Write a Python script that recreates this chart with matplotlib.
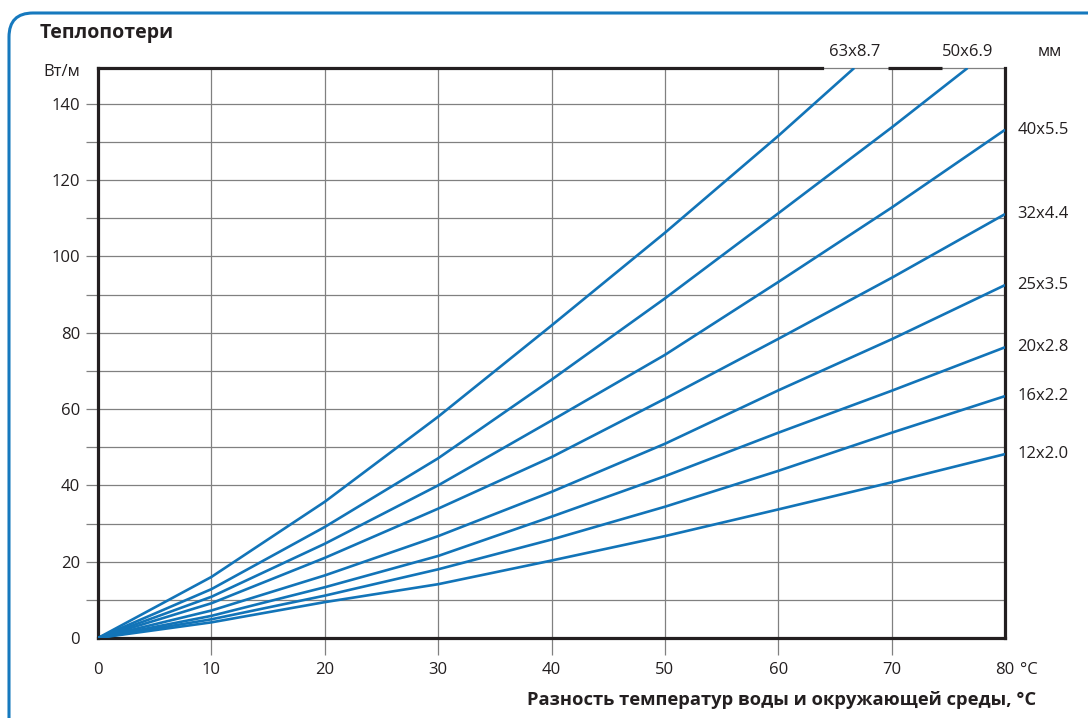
import matplotlib
matplotlib.use("Agg")
import matplotlib.pyplot as plt
from matplotlib.patches import FancyBboxPatch
from matplotlib.transforms import IdentityTransform

plt.rcParams['font.family'] = ['Open Sans', 'DejaVu Sans']

# ---- data ----
x_full = [0, 10, 20, 30, 40, 50, 60, 70, 80]
s12x20 = [0, 4.1, 9.4, 14.1, 20.3, 26.7, 33.7, 40.8, 48.2]
s16x22 = [0, 4.9, 11.1, 18.0, 25.8, 34.4, 43.8, 53.8, 63.4]
s20x28 = [0, 5.8, 13.3, 21.5, 31.8, 42.4, 53.8, 64.8, 76.2]
s25x35 = [0, 7.2, 16.4, 26.7, 38.3, 50.9, 64.9, 78.3, 92.5]
s32x44 = [0, 9.1, 21.0, 33.9, 47.4, 62.7, 78.4, 94.4, 111.1]
s40x55 = [0, 10.8, 24.7, 40.0, 57.0, 74.2, 93.3, 112.8, 133.2]
x_50 = [0, 10, 20, 30, 40, 50, 60, 70, 76.7]
s50x69 = [0, 12.8, 29.1, 47.1, 67.7, 89.0, 111.3, 133.8, 149.4]
x_63 = [0, 10, 20, 30, 40, 50, 60, 66.7]
s63x87 = [0, 16.0, 35.7, 58.0, 81.9, 106.2, 131.6, 149.4]

right_labels = ['40x5.5', '32x4.4', '25x3.5', '20x2.8', '16x2.2', '12x2.0']
right_series = [s40x55, s32x44, s25x35, s20x28, s16x22, s12x20]
top_labels = ['63x8.7', '50x6.9']
top_x = [x_63, x_50]

x_ticks = [0, 10, 20, 30, 40, 50, 60, 70, 80]
y_ticks = [0, 20, 40, 60, 80, 100, 120, 140]

LINE = '#1274b8'
GRID = '#808080'
DARK = '#231f20'
YTOP = 149.4

W, H = 1088, 718
fig = plt.figure(figsize=(W / 100, H / 100), dpi=100)
ax = fig.add_axes([98 / W, 80 / H, 907 / W, 570 / H])

series = [(x_63, s63x87), (x_50, s50x69), (x_full, s40x55), (x_full, s32x44),
          (x_full, s25x35), (x_full, s20x28), (x_full, s16x22), (x_full, s12x20)]
for xs, ys in series:
    ax.plot(xs, ys, color=LINE, lw=1.9, solid_capstyle='butt', solid_joinstyle='round',
            zorder=3)

ax.set_xlim(0, 80)
ax.set_ylim(0, YTOP)

ax.xaxis.remove_overlapping_locs = False
ax.yaxis.remove_overlapping_locs = False

ax.set_xticks(x_ticks)
ax.set_xticklabels([str(v) for v in x_ticks])
ax.set_xticks(list(range(10, 80, 10)), minor=True)
ax.set_yticks(y_ticks)
ax.set_yticklabels([str(v) for v in y_ticks])
ax.set_yticks(list(range(10, 150, 10)), minor=True)

ax.tick_params(axis='both', which='major', length=0, labelsize=12, colors=DARK)
ax.tick_params(axis='x', which='major', pad=17)
ax.tick_params(axis='y', which='major', pad=13)
ax.tick_params(axis='x', which='minor', length=12.5, width=0.9, color=GRID, direction='out')
ax.tick_params(axis='y', which='minor', length=9, width=0.9, color=GRID, direction='out')
ax.grid(which='major', visible=False)
ax.grid(which='minor', color=GRID, lw=0.9, zorder=1)

for side in ['left', 'bottom', 'right']:
    ax.spines[side].set_linewidth(2.3)
    ax.spines[side].set_color(DARK)
ax.spines['top'].set_visible(False)
ax.axhline(YTOP, color=GRID, lw=0.9, zorder=1, clip_on=False)
# thick top frame segments interrupted by the labels
ax.plot([0, (822 - 98) / 907], [1.0, 1.0], transform=ax.transAxes, color=DARK,
        lw=2.3, clip_on=False, zorder=4, solid_capstyle='projecting')
ax.plot([(888 - 98) / 907, (942 - 98) / 907], [1.0, 1.0], transform=ax.transAxes,
        color=DARK, lw=2.3, clip_on=False, zorder=4, solid_capstyle='butt')

# right labels
for lab, ys in zip(right_labels, right_series):
    ax.annotate(lab, xy=(80, ys[-1]), xytext=(9, 0), textcoords='offset points',
                ha='left', va='center', fontsize=12, color=DARK, annotation_clip=False)
# top labels
for lab, xs in zip(top_labels, top_x):
    ax.annotate(lab, xy=(xs[-1], YTOP), xytext=(0, 11.5), textcoords='offset points',
                ha='center', va='center', fontsize=12, color=DARK, annotation_clip=False)

ax.annotate('°C', xy=(1, 0), xycoords='axes fraction', xytext=(10.5, -17),
            textcoords='offset points', ha='left', va='top', fontsize=12, color=DARK,
            annotation_clip=False)

fig.text(1050 / W, 1 - 52 / H, 'мм', ha='center', va='center', fontsize=12, color=DARK)
fig.text(80 / W, 1 - 72 / H, 'Вт/м', ha='right', va='center', fontsize=12, color=DARK)
fig.text(40 / W, 1 - 33 / H, 'Теплопотери', ha='left', va='center', fontsize=14,
         fontweight='bold', color=DARK)
fig.text(1036 / W, 1 - 700 / H, 'Разность температур воды и окружающей среды, °С',
         ha='right', va='center', fontsize=13.2, fontweight='bold', color=DARK)

border = FancyBboxPatch((9, -200), 1400, 918 - 13, boxstyle='round,pad=0,rounding_size=24',
                        transform=IdentityTransform(), facecolor='none',
                        edgecolor='#1679be', lw=2.2)
fig.add_artist(border)

fig.savefig('out.png', dpi=100)
